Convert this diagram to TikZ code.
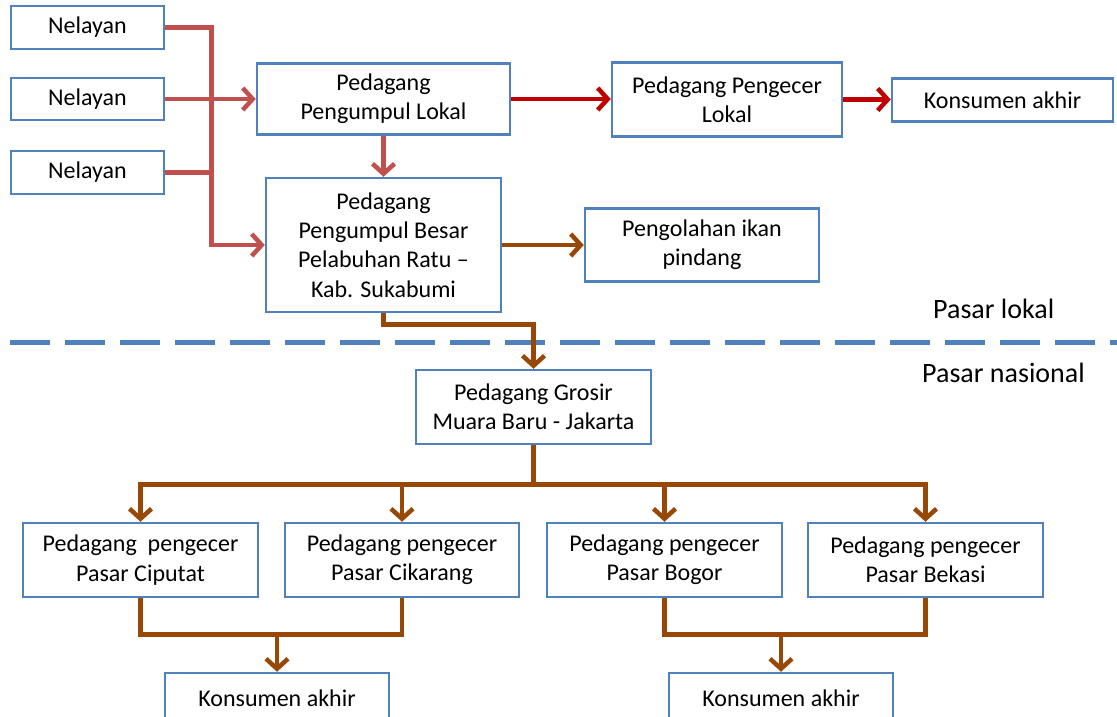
\documentclass[tikz,border=0pt]{standalone}
\usepackage{fontspec}
\setmainfont{Carlito}
\usetikzlibrary{arrows.meta}
\definecolor{boxblue}{RGB}{79,129,189}
\definecolor{lred}{RGB}{192,80,77}
\definecolor{dred}{RGB}{192,0,0}
\definecolor{lbrown}{RGB}{152,72,6}
\begin{document}
\begin{tikzpicture}[x=1pt,y=-1pt,
  box/.style={draw=boxblue, line width=2.5pt, fill=white, align=center, inner sep=0pt,
    font=\fontsize{24}{29.3}\selectfont},
  conn/.style={line width=4.5pt},
  redc/.style={conn, draw=lred},
  dredc/.style={conn, draw=dred},
  brownc/.style={conn, draw=lbrown},
  tip/.style={-{Straight Barb[length=10pt,width=22pt]}},
  lbl/.style={anchor=base west, inner sep=0pt, font=\fontsize{28}{34}\selectfont}]
\useasboundingbox (0,0) rectangle (1117,716);
\clip (0,0) rectangle (1117,716);
\fill[white] (0,0) rectangle (1117,716);

% dashed separator
\draw[boxblue, line width=5pt, dash pattern=on 40pt off 15pt] (10,342) -- (1117,342);
\node[lbl] (plok) at (933,318) {Pasar lokal};
\node[lbl] (pnas) at (922,382) {Pasar nasional};

% boxes
\node[box, minimum width=153pt, minimum height=43pt] (n1) at (87.5,27.5) {Nelayan};
\node[box, minimum width=153pt, minimum height=42pt] (n2) at (87.5,99) {Nelayan};
\node[box, minimum width=153pt, minimum height=43pt] (n3) at (87.5,172.5) {Nelayan};
\node[box, minimum width=253pt, minimum height=71pt] (pl) at (383.5,99) {Pedagang\\Pengumpul Lokal};
\node[box, minimum width=235pt, minimum height=134pt] (pb) at (383.5,245) {Pedagang\\Pengumpul Besar\\Pelabuhan Ratu --\\Kab. Sukabumi};
\node[box, minimum width=230pt, minimum height=74pt] (pel) at (727,99.5) {Pedagang Pengecer\\Lokal};
\node[box, minimum width=221pt, minimum height=43pt] (ka) at (1002.5,100) {Konsumen akhir};
\node[box, minimum width=234pt, minimum height=73pt] (po) at (702,245) {Pengolahan ikan\\pindang};
\node[box, minimum width=235pt, minimum height=74pt] (gr) at (533.5,407) {Pedagang Grosir\\Muara Baru - Jakarta};
\node[box, minimum width=235pt, minimum height=74pt] (ci) at (140.5,560) {Pedagang\ \ pengecer\\Pasar Ciputat};
\node[box, minimum width=234pt, minimum height=74pt] (ck) at (402,560) {Pedagang pengecer\\Pasar Cikarang};
\node[box, minimum width=235pt, minimum height=74pt] (bo) at (664.5,560) {Pedagang pengecer\\Pasar Bogor};
\node[box, minimum width=235pt, minimum height=74pt] (be) at (925.5,560) {Pedagang pengecer\\Pasar Bekasi};
\node[box, minimum width=224pt, minimum height=50pt] (k1) at (277,698) {Konsumen akhir};
\node[box, minimum width=224pt, minimum height=50pt] (k2) at (781,698) {Konsumen akhir};

% red connectors from Nelayan
\draw[redc] (n3.east) -- ++(46,0);
\draw[redc, tip] (n1.east) -- ++(46,0) |- (pb.west);
\draw[redc, tip] (n2.east) -- (n2.east -| pl.west);
\draw[redc, tip] (pl.south) -- (pb.north);

% dark red top row
\draw[dredc, tip] (pl.east) -- (pl.east -| pel.west);
\draw[dredc, tip] (pel.east) -- (pel.east -| ka.west);

% brown
\draw[brownc, tip] (pb.east) -- (pb.east -| po.west);
\draw[brownc, tip] (pb.south) -- ++(0,11) -| (gr.north);
\draw[brownc] (gr.south) -- ++(0,39) coordinate (hub);
\draw[brownc, tip] (hub) -| (ci.north);
\draw[brownc, tip] (hub) -| (ck.north);
\draw[brownc, tip] (hub) -| (bo.north);
\draw[brownc, tip] (hub) -| (be.north);

\draw[brownc] (ci.south) -- ++(0,36) coordinate (j1) -| (ck.south);
\draw[brownc, tip] (j1 -| k1.north) -- (k1.north);
\draw[brownc] (bo.south) -- ++(0,36) coordinate (j2) -| (be.south);
\draw[brownc, tip] (j2 -| k2.north) -- (k2.north);
\end{tikzpicture}
\end{document}
